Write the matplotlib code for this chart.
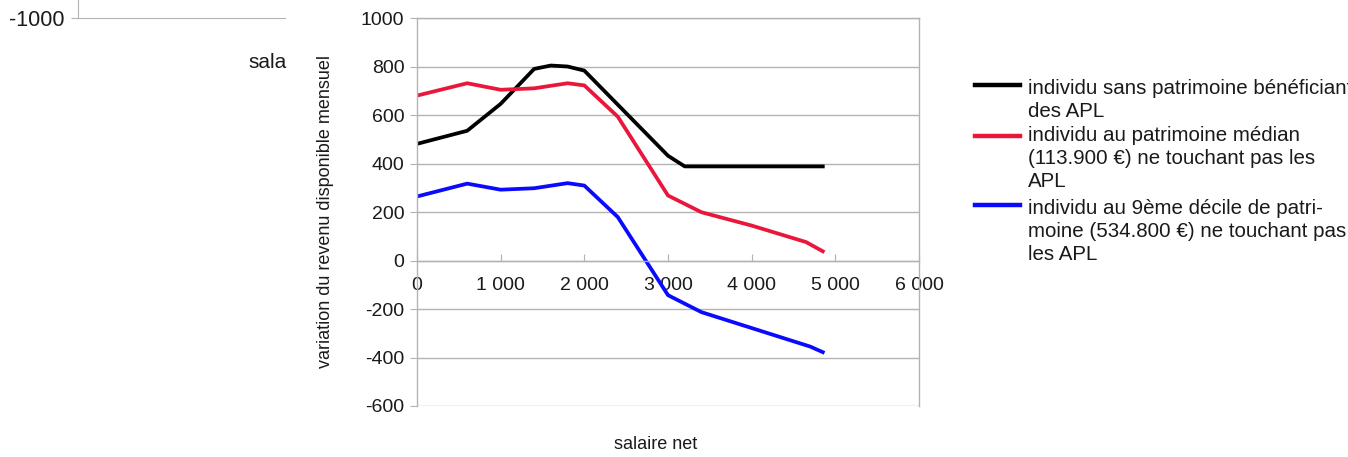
import matplotlib
matplotlib.use("Agg")
import matplotlib.pyplot as plt
from matplotlib.lines import Line2D

plt.rcParams['font.family'] = ['Liberation Sans', 'DejaVu Sans']

# ---- data ----
sal_black = [0, 600, 1000, 1400, 1600, 1800, 2000, 3000, 3200, 4850]
val_black = [481, 535, 646, 790, 804, 800, 783, 432, 388, 388]

sal_red = [0, 600, 1000, 1400, 1800, 2000, 2400, 3000, 3400, 4000, 4650, 4850]
val_red = [680, 731, 704, 710, 731, 722, 593, 268, 199, 144, 76, 38]

sal_blue = [0, 600, 1000, 1400, 1800, 2000, 2400, 3000, 3400, 4700, 4850]
val_blue = [264, 317, 292, 298, 319, 309, 179, -143, -213, -355, -378]

labels = [
    "individu sans patrimoine bénéficiant\ndes APL",
    "individu au patrimoine médian\n(113.900 €) ne touchant pas les\nAPL",
    "individu au 9ème décile de patri-\nmoine (534.800 €) ne touchant pas\nles APL",
]
colors = ["#000000", "#e8173b", "#0a0aff"]

xticks = [0, 1000, 2000, 3000, 4000, 5000, 6000]
xticklabels = ["0", "1 000", "2 000", "3 000", "4 000", "5 000", "6 000"]
yticks = [-600, -400, -200, 0, 200, 400, 600, 800, 1000]

W, H = 1348, 457
fig = plt.figure(figsize=(W / 100, H / 100), dpi=100)
grey = "#b3b3b3"
txt = "#1a1a1a"

# ---- cropped fragment of a neighbouring chart (top-left) ----
ax0 = fig.add_axes([78 / W, (H - 18) / H, 207 / W, 0.3])
ax0.set_ylim(-1000, 0)
ax0.set_yticks([-1000])
ax0.set_yticklabels(["-1000"])
ax0.set_xticks([])
for s in ["top", "right"]:
    ax0.spines[s].set_visible(False)
for s in ["left", "bottom"]:
    ax0.spines[s].set_color(grey)
ax0.tick_params(axis='y', colors=grey, labelcolor=txt, labelsize=15.5,
                length=5, pad=5)
fig.text(248 / W, (H - 62) / H, "sala", fontsize=15, color=txt,
         ha="left", va="center")

# ---- main chart ----
ax = fig.add_axes([417 / W, (H - 406) / H, 502 / W, 388 / H])
lines = []
for xs, ys, c, lab in [(sal_black, val_black, colors[0], labels[0]),
                       (sal_red, val_red, colors[1], labels[1]),
                       (sal_blue, val_blue, colors[2], labels[2])]:
    ln, = ax.plot(xs, ys, color=c, lw=2.7, label=lab, solid_joinstyle='round')
    lines.append(ln)

ax.set_xlim(0, 6000)
ax.set_ylim(-600, 1000)
ax.set_xticks(xticks)
ax.set_xticklabels(xticklabels)
ax.set_yticks(yticks)
ax.set_yticklabels([str(v) for v in yticks])

ax.grid(axis='y', color=grey, lw=1)
ax.set_axisbelow(True)
ax.spines['bottom'].set_position(('data', 0))
for s in ax.spines.values():
    s.set_color(grey)
    s.set_linewidth(1)
ax.tick_params(axis='x', direction='in', length=5, colors=grey,
               labelcolor=txt, labelsize=14, pad=12)
ax.tick_params(axis='y', direction='out', length=5, colors=grey,
               labelcolor=txt, labelsize=14, pad=4)

ax.set_xlabel("salaire net", fontsize=13, color=txt)
ax.xaxis.set_label_coords((656 - 417) / 502, (406 - 436) / 388)
ax.set_ylabel("variation du revenu disponible mensuel", fontsize=13, color=txt)
ax.yaxis.set_label_coords((334 - 417) / 502, 0.5)

# ---- legend (handles aligned with the first line of each label) ----
text_top = [78.5, 126.0, 198.5]
handle_y = [85, 136, 205]
for ln, lab, yt, yh in zip(lines, labels, text_top, handle_y):
    fig.add_artist(Line2D([975 / W, 1020 / W], [(H - yh) / H] * 2,
                          color=ln.get_color(), lw=3.2,
                          transform=fig.transFigure))
    fig.text(1028 / W, (H - yt) / H, lab, fontsize=14.8, color=txt,
             ha="left", va="top", linespacing=1.27)

fig.savefig("out.png", dpi=100, facecolor="white")
